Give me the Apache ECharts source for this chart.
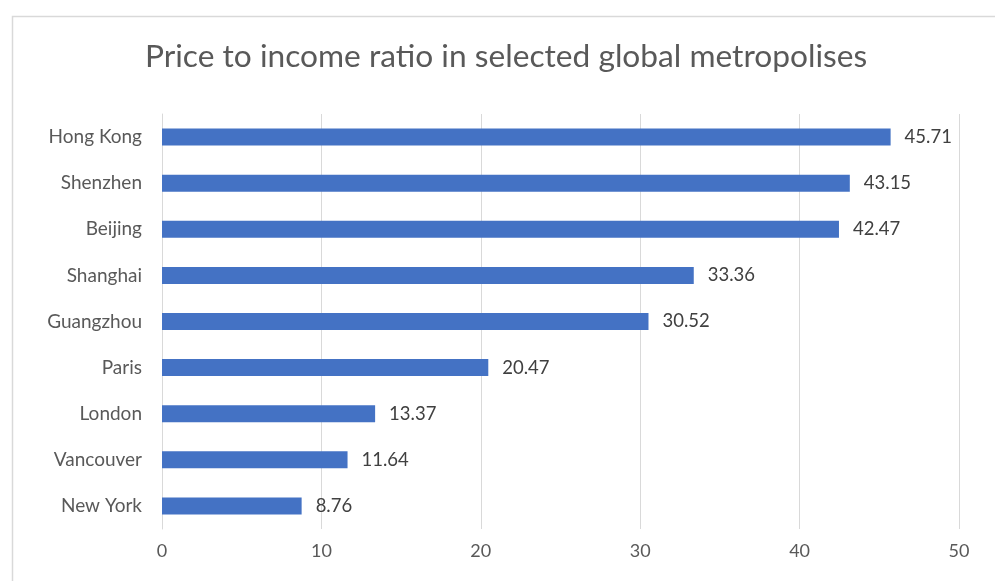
<!DOCTYPE html>
<html><head><meta charset="utf-8">
<script src="https://cdn.jsdelivr.net/npm/echarts@6/dist/echarts.min.js"></script>
<style>html,body{margin:0;padding:0;background:#fff}#c{width:995px;height:581px}</style>
</head><body><div id="c"></div>
<script>
const categories = ["Hong Kong","Shenzhen","Beijing","Shanghai","Guangzhou","Paris","London","Vancouver","New York"];
const values = [45.71,43.15,42.47,33.36,30.52,20.47,13.37,11.64,8.76];
const xTicks = {min:0,max:50,interval:10};
const titleText = "Price to income ratio in selected global metropolises";

const chart = echarts.init(document.getElementById('c'), null, {renderer:'canvas'});
const font = "Lato, 'Open Sans', sans-serif";
chart.setOption({
  animation:false,
  backgroundColor:'#fff',
  graphic:[{type:'rect',left:10,top:14,shape:{width:1000,height:600},style:{fill:'none',stroke:'#d9d9d9',lineWidth:1.5},z:-1}],
  title:{text:titleText,left:140,top:36,textStyle:{fontFamily:font,fontSize:31.7,fontWeight:'normal',color:'#595959'}},
  grid:{left:162,right:36,top:114,bottom:52,containLabel:false},
  xAxis:{type:'value',min:xTicks.min,max:xTicks.max,interval:xTicks.interval,
    axisLine:{show:false},axisTick:{show:false},
    splitLine:{lineStyle:{color:'#d9d9d9',width:1}},
    axisLabel:{margin:13,fontFamily:font,fontSize:18,color:'#595959'}},
  yAxis:{type:'category',data:categories,inverse:true,
    axisLine:{show:true,lineStyle:{color:'#d9d9d9'}},axisTick:{show:false},
    axisLabel:{margin:20,fontFamily:font,fontSize:19,color:'#595959'}},
  series:[{type:'bar',data:values,barWidth:17,itemStyle:{color:'#4472C4'},
    label:{show:true,position:'right',distance:14,fontFamily:font,fontSize:18.5,color:'#404040',
      formatter:p=>p.value.toFixed(2)}}]
});
</script></body></html>
